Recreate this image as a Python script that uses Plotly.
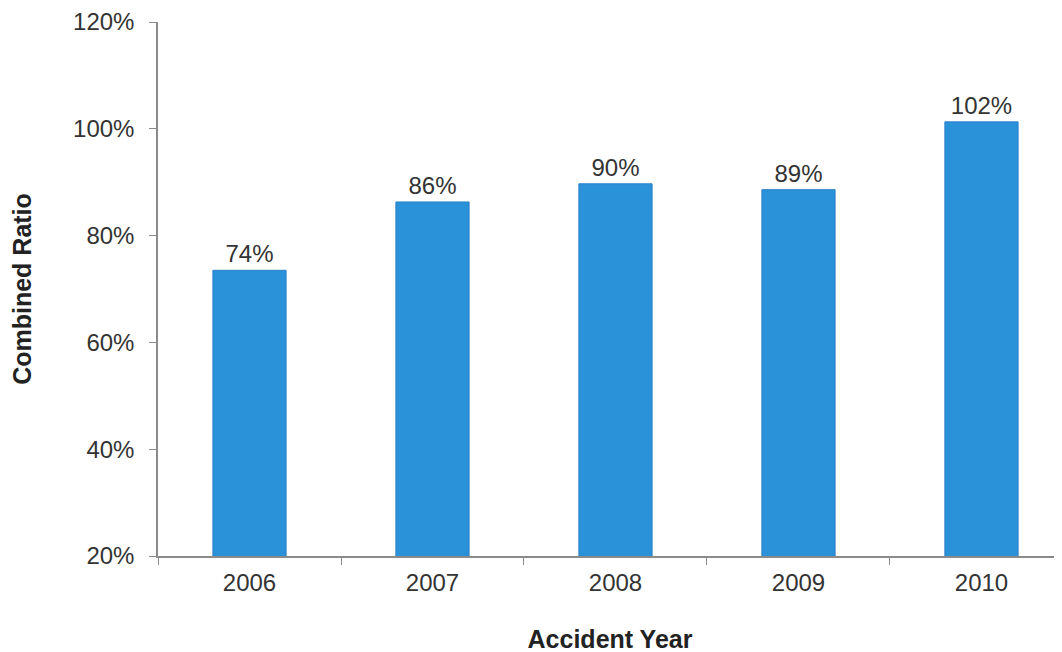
import plotly.graph_objects as go

years = ["2006", "2007", "2008", "2009", "2010"]
combined_ratio = [73.5, 86.3, 89.7, 88.6, 101.3]
labels = ["74%", "86%", "90%", "89%", "102%"]
y_tick_vals = [20, 40, 60, 80, 100, 120]
y_tick_text = ["20%", "40%", "60%", "80%", "100%", "120%"]

FONT = "Liberation Sans, Arial, sans-serif"

fig = go.Figure()
fig.add_trace(go.Bar(
    x=years,
    y=combined_ratio,
    base=0,
    text=labels,
    textposition="outside",
    cliponaxis=False,
    textfont=dict(family=FONT, size=24, color="#333333"),
    marker=dict(color="#2a92d9", line=dict(color="#2a7fc8", width=1)),
    width=0.4,
))

fig.update_layout(
    width=1062,
    height=652,
    margin=dict(l=150, r=8, t=14, b=104),
    paper_bgcolor="white",
    plot_bgcolor="white",
    showlegend=False,
    font=dict(family=FONT, size=18, color="#333333"),
    xaxis=dict(
        type="category",
        range=[-0.5, 4.44],
        automargin=False,
        showline=True,
        linecolor="#8a8a8a",
        linewidth=1.5,
        ticks="outside",
        tickson="boundaries",
        ticklen=7,
        tickcolor="#8a8a8a",
        ticklabelstandoff=4,
        showgrid=False,
        tickfont=dict(size=24, color="#333333"),
        title=dict(text="<b>Accident Year</b>", font=dict(size=25, color="#222222"), standoff=36),
    ),
    yaxis=dict(
        range=[20, 120],
        automargin=False,
        tickvals=y_tick_vals,
        ticktext=y_tick_text,
        showline=True,
        linecolor="#8a8a8a",
        linewidth=1.5,
        ticks="outside",
        ticklen=7,
        tickcolor="#8a8a8a",
        ticklabelstandoff=10,
        showgrid=False,
        zeroline=False,
        tickfont=dict(size=24, color="#333333"),
        title=dict(text="<b>Combined Ratio</b>", font=dict(size=25, color="#222222"), standoff=42),
    ),
)

fig.write_html("out.html")
